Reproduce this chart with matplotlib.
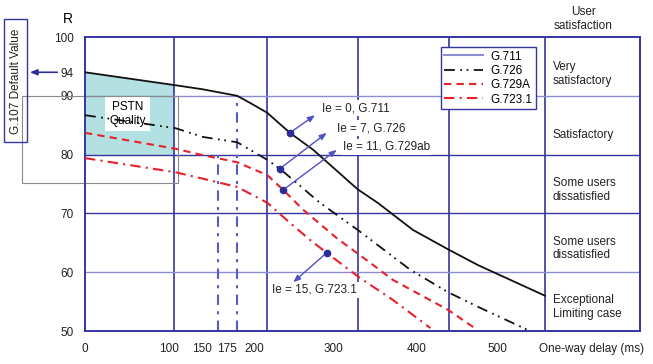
import numpy as np
import matplotlib.pyplot as plt
from matplotlib.patches import Rectangle

plt.rcParams['font.family'] = ['Liberation Sans', 'DejaVu Sans']
plt.rcParams['font.size'] = 8.5

# R factor vs one-way delay (ms)
g711_ms = [0, 108, 141, 182, 201, 218, 245, 273, 326, 350, 392, 434, 470, 550]
g711_r = [94.0, 91.8, 91.1, 90.0, 88.5, 87.1, 83.7, 80.8, 74.1, 71.8, 67.2, 63.9, 61.2, 56.0]

g726_ms = [0, 108, 141, 182, 218, 233, 281, 326, 389, 434, 470, 529]
g726_r = [86.7, 84.5, 83.0, 82.1, 79.1, 77.6, 71.8, 67.2, 60.4, 56.6, 54.1, 50.2]

g729a_ms = [0, 108, 141, 182, 218, 237, 261, 301, 341, 368, 434, 466]
g729a_r = [83.7, 81.0, 79.9, 78.7, 76.5, 74.0, 70.6, 65.8, 61.6, 58.7, 53.6, 50.5]

g7231_ms = [0, 108, 141, 182, 218, 245, 269, 289, 313, 329, 368, 413]
g7231_r = [79.4, 77.0, 75.9, 74.5, 71.8, 68.4, 65.5, 63.3, 60.7, 59.0, 55.3, 50.5]

codecs = ['G.711', 'G.726', 'G.729A', 'G.723.1']

# Ie annotations: point on curve, arrow tip, text anchor
ie_labels = ['Ie = 0, G.711', 'Ie = 7, G.726', 'Ie = 11, G.729ab', 'Ie = 15, G.723.1']
ie_ms = [245, 233, 237, 289]
ie_r = [83.7, 77.6, 74.0, 63.3]
tip_ms = [275, 289, 301, 249]
tip_r = [86.7, 83.7, 80.8, 58.3]
txt_ms = [283, 301, 308, 224]
txt_r = [87.9, 84.5, 81.3, 57.0]

# x tick labels (schematic axis) and the two delay markers
xtick_ms = [0, 100, 140, 170, 202, 297, 397, 493]
xtick_labels = ['0', '100', '150', '175', '200', '300', '400', '500']
ytick_vals = [50, 60, 70, 80, 90, 94, 100]
delay_ms = [159, 182]
delay_top = [80, 90]

sat_labels = ['Very\nsatisfactory', 'Satisfactory', 'Some users\ndissatisfied',
              'Some users\ndissatisfied', 'Exceptional\nLimiting case']
sat_r = [93.7, 83.3, 74.0, 64.0, 54.1]

blue = '#3535a0'
light_blue = '#8c8cd2'
red = '#e8202a'

fig = plt.figure(figsize=(6.53, 3.64), dpi=100)
ax = fig.add_axes([85 / 653, 33 / 364, 555 / 653, 294 / 364])
ax.set_xlim(0, 663.6)
ax.set_ylim(50, 100)

for s in ax.spines.values():
    s.set_color(blue)
    s.set_linewidth(1.4)

# grid
for x in [106, 218, 327, 435, 550]:
    ax.axvline(x, color=blue, lw=1.2, zorder=1)
for y, c in zip([90, 80, 70, 60], [light_blue, blue, blue, light_blue]):
    ax.axhline(y, color=c, lw=1.0, zorder=1)

# PSTN quality zone
shade_x = np.array([0, 106])
ax.fill_between(shade_x, 80, np.interp(shade_x, g711_ms, g711_r),
                color='#b3e0e0', lw=0, zorder=0.5)
ax.text(51, 86.9, 'PSTN\nQuality', ha='center', va='center', zorder=2,
        bbox=dict(boxstyle='square,pad=0.35', fc='white', ec='none'))
ax.add_patch(Rectangle((-75.3, 75.2), 186.5, 14.8, fill=False, ec='#8a8a8a',
                       lw=0.8, clip_on=False, zorder=2))

# delay markers
for x, top in zip(delay_ms, delay_top):
    ax.plot([x, x], [50, top], color='#5a5ac4', lw=1.5,
            ls=(0, (5, 3, 1.5, 3)), zorder=2)

lines = []
lines += ax.plot(g711_ms, g711_r, color='#111111', lw=1.3, zorder=3)
lines += ax.plot(g726_ms, g726_r, color='#111111', lw=1.3,
                 ls=(0, (6, 3, 1, 2.5, 1, 3)), zorder=3)
lines += ax.plot(g729a_ms, g729a_r, color=red, lw=1.5, ls=(0, (3.5, 2.5)), zorder=3)
lines += ax.plot(g7231_ms, g7231_r, color=red, lw=1.5, ls=(0, (5, 2.5, 1, 2.5)), zorder=3)

leg = ax.legend(lines, codecs, loc='upper right', bbox_to_anchor=(0.8126, 0.966),
                fancybox=False, edgecolor=blue, framealpha=1, handlelength=3.3,
                borderpad=0.3, labelspacing=0.2, handletextpad=0.6, borderaxespad=0)
leg.get_frame().set_linewidth(1.0)
leg.legend_handles[0].set_color(light_blue)
leg.legend_handles[0].set_linewidth(1.5)

# Ie annotations
for lab, x0, y0, x1, y1, tx, ty in zip(ie_labels, ie_ms, ie_r, tip_ms, tip_r, txt_ms, txt_r):
    ax.text(tx, ty, lab, ha='left', va='center', color='#222222', zorder=2.5,
            bbox=dict(boxstyle='square,pad=0.15', fc='white', ec='none'))
    ax.annotate('', xy=(x1, y1), xytext=(x0, y0), zorder=4,
                arrowprops=dict(arrowstyle='-|>,head_length=0.5,head_width=0.2',
                                color='#5050c4', lw=1.0, shrinkA=0, shrinkB=0))
ax.plot(ie_ms, ie_r, 'o', color='#2d2d99', ms=4.5, zorder=5, ls='none')

# user satisfaction column
for lab, y in zip(sat_labels, sat_r):
    ax.text(559, y, lab, ha='left', va='center', color='#222222', linespacing=1.15)

ax.set_xticks(xtick_ms)
ax.set_xticklabels(xtick_labels)
ax.set_yticks(ytick_vals)
ax.tick_params(length=0, labelsize=8.5, colors='#222222')
ax.tick_params(axis='x', pad=9)
ax.tick_params(axis='y', pad=8)

# G.107 default value pointer
ax.annotate('', xy=(-66, 94), xytext=(-33, 94), annotation_clip=False,
            arrowprops=dict(arrowstyle='-|>,head_length=0.5,head_width=0.2',
                            color='#2d2d99', lw=1.2, shrinkA=0, shrinkB=0))
fig.patches.append(Rectangle((4 / 653, 1 - 142 / 364), 23 / 653, 123 / 364,
                             transform=fig.transFigure, fill=False, ec=blue, lw=1.0))
fig.text(16 / 653, 1 - 81 / 364, 'G.107 Default Value', rotation=90,
         ha='center', va='center', color='#222222')

fig.text(68 / 653, 1 - 19 / 364, 'R', ha='center', va='center', fontsize=10)
fig.text(583 / 653, 1 - 19 / 364, 'User\nsatisfaction', ha='center', va='center',
         color='#222222', linespacing=1.15)
fig.text(592 / 653, 1 - 349 / 364, 'One-way delay (ms)', ha='center', va='center',
         color='#222222')

fig.savefig('out.png', dpi=100)
